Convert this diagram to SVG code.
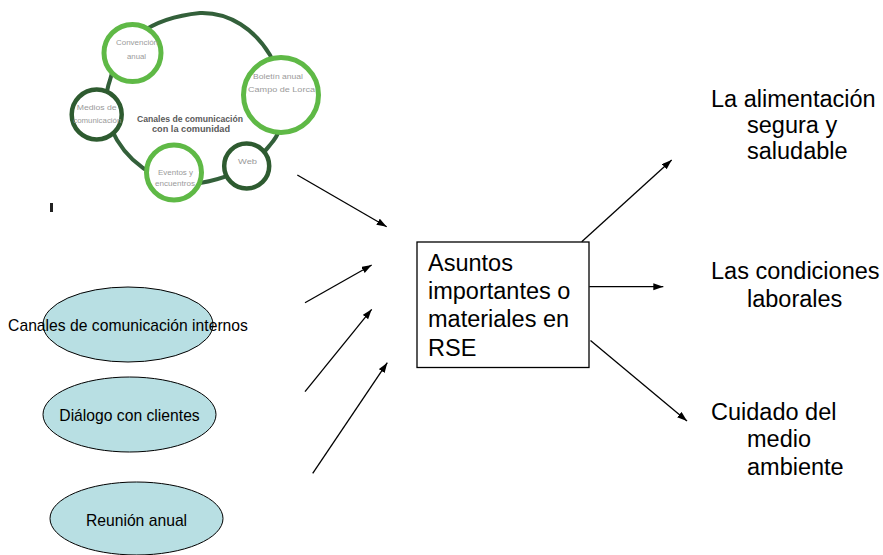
<svg xmlns="http://www.w3.org/2000/svg" width="883" height="555" viewBox="0 0 883 555">
<defs>
<marker id="ah" markerUnits="userSpaceOnUse" markerWidth="11" markerHeight="8" refX="10" refY="3.5" orient="auto">
<path d="M0,0 L10,3.5 L0,7 z" fill="#000"/>
</marker>
<style>
.t{font-family:"Liberation Sans",Arial,sans-serif;fill:#000}
.big{font-size:23.5px}
.mid{font-size:15.7px;text-anchor:middle}
.ell{fill:#b8dfe3;stroke:#000;stroke-width:1}
.conn line{stroke:#000;stroke-width:1.3;marker-end:url(#ah)}
.cb{fill:#fff;stroke:#5fb946;stroke-width:5}
.cd{fill:#fff;stroke:#2e5b30;stroke-width:4.5}
.ct{font-family:"Liberation Sans",Arial,sans-serif;font-size:6.5px;fill:#9a9a9a;text-anchor:middle}
.cc{font-family:"Liberation Sans",Arial,sans-serif;font-size:9px;font-weight:bold;fill:#5a5a5a;text-anchor:middle}
</style>
</defs>
<rect width="883" height="555" fill="#fff"/>

<g id="community-channels">
<path d="M110,80 C120,40 150,18 200,13 C230,12 255,30 270,55 C290,90 288,125 270,145 C255,165 230,178 200,183 C170,188 135,170 117,140 C105,120 103,100 110,80 Z" fill="none" stroke="#33603a" stroke-width="4"/>
<text class="cc" x="190" y="121.5" textLength="106" lengthAdjust="spacingAndGlyphs">Canales de comunicación</text>
<text class="cc" x="191" y="132" textLength="78" lengthAdjust="spacingAndGlyphs">con la comunidad</text>
<g id="c-convencion">
<circle class="cb" cx="132.5" cy="53" r="28.5"/>
<text class="ct" x="137" y="45" textLength="42" lengthAdjust="spacingAndGlyphs">Convención</text>
<text class="ct" x="136.5" y="59" textLength="19" lengthAdjust="spacingAndGlyphs">anual</text>
</g>
<g id="c-medios">
<circle class="cd" cx="96.7" cy="114.5" r="25"/>
<text class="ct" x="96.7" y="109.5" textLength="40" lengthAdjust="spacingAndGlyphs">Medios de</text>
<text class="ct" x="97.3" y="122.5" textLength="48" lengthAdjust="spacingAndGlyphs">comunicación</text>
</g>
<g id="c-boletin">
<circle class="cb" cx="281" cy="95" r="37.5"/>
<text class="ct" x="278" y="79" textLength="50" lengthAdjust="spacingAndGlyphs">Boletín anual</text>
<text class="ct" x="281.5" y="91.5" textLength="67" lengthAdjust="spacingAndGlyphs">Campo de Lorca</text>
</g>
<g id="c-web">
<circle class="cd" cx="246.7" cy="166" r="22.5"/>
<text class="ct" x="247.5" y="163.5" textLength="19" lengthAdjust="spacingAndGlyphs">Web</text>
</g>
<g id="c-eventos">
<circle class="cb" cx="174" cy="172.5" r="27.5"/>
<text class="ct" x="175.5" y="175" textLength="35" lengthAdjust="spacingAndGlyphs">Eventos y</text>
<text class="ct" x="175" y="185.5" textLength="40" lengthAdjust="spacingAndGlyphs">encuentros</text>
</g>
<rect x="50" y="203" width="3" height="9" fill="#222"/>
</g>

<g id="internal-channels">
<ellipse class="ell" cx="128" cy="324.5" rx="85" ry="37.5"/>
<text class="t mid" x="128" y="331">Canales de comunicación internos</text>
</g>
<g id="client-dialogue">
<ellipse class="ell" cx="129.5" cy="414.5" rx="86.5" ry="37.5"/>
<text class="t mid" x="129.5" y="420.5">Diálogo con clientes</text>
</g>
<g id="annual-meeting">
<ellipse class="ell" cx="136.5" cy="518.5" rx="86.5" ry="36.5"/>
<text class="t mid" x="136.5" y="525.5">Reunión anual</text>
</g>

<g id="rse-box">
<rect x="417" y="242" width="172" height="125.5" fill="#fff" stroke="#000" stroke-width="1.3"/>
<text class="t big" x="428" y="270.7">Asuntos</text>
<text class="t big" x="428" y="299">importantes o</text>
<text class="t big" x="428" y="327.3">materiales en</text>
<text class="t big" x="428" y="356">RSE</text>
</g>

<g id="food">
<text class="t big" x="711" y="107">La alimentación</text>
<text class="t big" x="747" y="133">segura y</text>
<text class="t big" x="747" y="159">saludable</text>
</g>
<g id="labour">
<text class="t big" x="711" y="278.5">Las condiciones</text>
<text class="t big" x="747" y="307">laborales</text>
</g>
<g id="environment">
<text class="t big" x="711" y="420">Cuidado del</text>
<text class="t big" x="747" y="447">medio</text>
<text class="t big" x="747" y="475">ambiente</text>
</g>

<g id="connectors" class="conn">
<line x1="297.3" y1="175" x2="386.7" y2="226.7"/>
<line x1="305" y1="302.7" x2="371.7" y2="265"/>
<line x1="305" y1="391.7" x2="371.7" y2="309.3"/>
<line x1="312.7" y1="473.3" x2="387.3" y2="362.7"/>
<line x1="581.7" y1="241.7" x2="671.7" y2="160"/>
<line x1="589.3" y1="286.7" x2="663.3" y2="286.7"/>
<line x1="590.5" y1="340.5" x2="687" y2="421"/>
</g>
</svg>
